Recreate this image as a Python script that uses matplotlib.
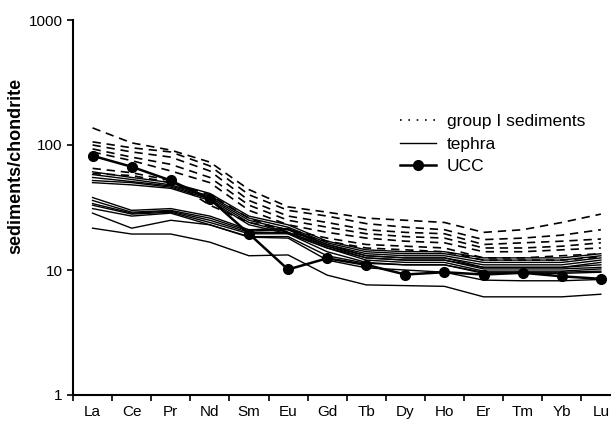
import matplotlib
matplotlib.use("Agg")
import matplotlib.pyplot as plt
from matplotlib.lines import Line2D
from matplotlib.ticker import FixedLocator, FixedFormatter, NullLocator
import numpy as np

plt.rcParams['font.family'] = ['Liberation Sans', 'DejaVu Sans']

categories = ['La', 'Ce', 'Pr', 'Nd', 'Sm', 'Eu', 'Gd', 'Tb', 'Dy', 'Ho', 'Er', 'Tm', 'Yb', 'Lu']

ucc = [82, 67, 52, 37, 19.5, 10.1, 12.4, 11.0, 9.2, 9.6, 9.2, 9.5, 8.9, 8.5]

sed1 = [137, 104, 91, 73, 44, 32, 29, 26, 25, 24, 20, 21, 24, 28]
sed2 = [106, 95, 88, 68, 40, 30, 27, 23.5, 22, 21, 17.5, 18, 19, 21]
sed3 = [100, 88, 80, 62, 36, 27, 24, 21, 20, 19.5, 16, 16.5, 17, 17.7]
sed4 = [93, 80, 70, 55, 33, 25, 22, 19.5, 18.5, 18, 15, 15, 15.5, 16.5]
sed5 = [88, 75, 62, 50, 30, 23, 20, 18, 17, 16.5, 14, 14, 14.5, 15]
sed6 = [65, 60, 52, 33, 24, 21, 18, 16, 15.5, 15, 12.5, 12.5, 13, 13.5]
sed7 = [59, 57, 50, 40, 26, 20, 17, 15, 14.5, 14, 12, 12, 12, 12.7]
sediments = [sed1, sed2, sed3, sed4, sed5, sed6, sed7]

teph1 = [61, 55, 50, 41, 27, 23, 17, 14.5, 14, 14, 12.5, 12.5, 12.5, 13.5]
teph2 = [58, 53, 48, 39, 26, 22, 16.5, 14, 13.5, 13.5, 12, 12, 12, 13]
teph3 = [55, 51, 47, 38, 25, 21, 16, 13.5, 13, 13, 11.5, 11.5, 11.5, 12.5]
teph4 = [52, 50, 46, 37, 24, 20, 15.5, 13, 12.5, 12.5, 11, 11, 11, 12]
teph5 = [50, 48, 45, 36, 23, 19.5, 15, 12.5, 12, 12, 10.5, 10.5, 10.5, 11.5]
teph6 = [38, 30, 31, 27, 21, 21.5, 16, 13, 12.5, 12.5, 10.5, 10.5, 10.5, 11]
teph7 = [36, 29, 30, 26, 20.5, 21, 15.5, 12.5, 12, 12, 10.2, 10.2, 10.2, 10.5]
teph8 = [34, 28.5, 29.5, 25, 20, 20, 15, 12, 11.5, 11.5, 9.8, 9.8, 9.8, 10.2]
teph9 = [33, 28, 29, 24, 19.5, 19.5, 14, 11.5, 11, 11, 9.6, 9.6, 9.6, 9.8]
teph10 = [31, 27, 28.5, 23, 18.5, 18.5, 13, 11.3, 11, 11, 9.4, 9.4, 9.4, 9.6]
teph11 = [28.5, 21.6, 25, 23, 18.3, 18, 12, 10.4, 10, 9.6, 8.3, 8.2, 8.2, 8.4]
teph12 = [21.6, 19.4, 19.4, 16.7, 13, 13.2, 9.1, 7.6, 7.5, 7.4, 6.1, 6.1, 6.1, 6.4]
tephra = [teph1, teph2, teph3, teph4, teph5, teph6, teph7, teph8, teph9, teph10, teph11, teph12]

legend_labels = ['group I sediments', 'tephra', 'UCC']

W, H = 611, 425
fig = plt.figure(figsize=(W / 100, H / 100), dpi=100)
ax = fig.add_axes([73 / W, 30 / H, 547.4 / W, 375 / H])

x = np.arange(len(categories)) + 0.5
dash = (0, (5, 3.5))
for s in sediments:
    ax.plot(x, s, color='black', lw=1.2, linestyle=dash)
for t in tephra:
    ax.plot(x, t, color='black', lw=1.0, linestyle='-')
ax.plot(x, ucc, color='black', lw=1.8, marker='o', markersize=7)

ax.set_yscale('log')
ax.set_ylim(1, 1000)
ax.set_xlim(0, len(categories))
ax.yaxis.set_major_locator(FixedLocator([1, 10, 100, 1000]))
ax.yaxis.set_major_formatter(FixedFormatter(['1', '10', '100', '1000']))
ax.yaxis.set_minor_locator(NullLocator())

ax.xaxis.set_major_locator(FixedLocator(np.arange(len(categories) + 1)))
ax.xaxis.set_major_formatter(FixedFormatter([''] * (len(categories) + 1)))
ax.xaxis.set_minor_locator(FixedLocator(x))
ax.xaxis.set_minor_formatter(FixedFormatter(categories))
ax.tick_params(axis='x', which='minor', length=0, pad=7, labelsize=11)
ax.tick_params(axis='x', which='major', length=4.5, width=1.2, direction='out')
ax.tick_params(axis='y', which='major', length=4.5, width=1.2, direction='out', labelsize=11, pad=3)

for sp in ['top', 'right']:
    ax.spines[sp].set_visible(False)
for sp in ['left', 'bottom']:
    ax.spines[sp].set_linewidth(1.5)

ax.set_ylabel('sediments/chondrite', fontsize=13, fontweight='bold')
ax.yaxis.set_label_coords(-0.088, 0.61)

handles = [
    Line2D([], [], color='black', lw=1.2, linestyle=(0, (1, 4))),
    Line2D([], [], color='black', lw=1.0),
    Line2D([], [], color='black', lw=1.8, marker='o', markersize=7),
]
ax.legend(handles, legend_labels, loc='upper left', frameon=False,
          bbox_to_anchor=(400 / W, (H - 114) / H), bbox_transform=fig.transFigure,
          fontsize=12.5, handlelength=2.1, handletextpad=0.6, labelspacing=0.42,
          borderpad=0, borderaxespad=0)

fig.savefig('out.png', dpi=100)
